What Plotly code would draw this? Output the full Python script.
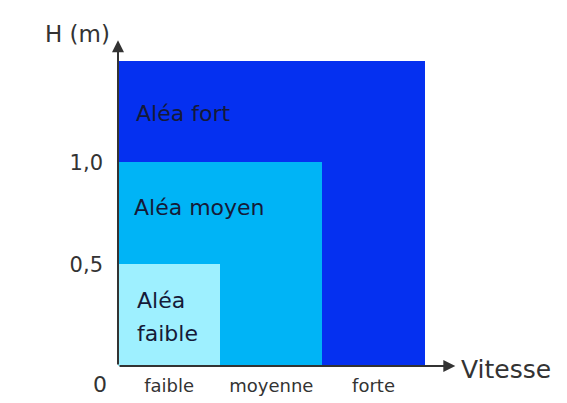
import plotly.graph_objects as go

# Data
speed_categories = ["faible", "moyenne", "forte"]
speed_positions = [0.5, 1.5, 2.5]
alea_faible = [0.5, 0.0, 0.0]
alea_moyen = [0.5, 1.0, 0.0]
alea_fort = [0.5, 0.5, 1.5]
height_ticks = [0.5, 1.0]
height_ticklabels = ["0,5", "1,0"]

FONT = "DejaVu Sans"
col_fort = "#0530f0"
col_moyen = "#00b4f6"
col_faible = "#9ef0ff"
txt = "#151a38"
axc = "#333333"

fig = go.Figure()
for name, vals, col in [("Aléa faible", alea_faible, col_faible),
                        ("Aléa moyen", alea_moyen, col_moyen),
                        ("Aléa fort", alea_fort, col_fort)]:
    fig.add_trace(go.Bar(x=speed_positions, y=vals, width=1.0, name=name,
                         marker=dict(color=col, line=dict(width=0)),
                         hoverinfo="skip"))

# Region labels
fig.add_annotation(x=0.16, y=1.24, text="Aléa fort", showarrow=False, xanchor="left",
                   font=dict(family=FONT, size=22, color=txt))
fig.add_annotation(x=0.14, y=0.78, text="Aléa moyen", showarrow=False, xanchor="left",
                   font=dict(family=FONT, size=22, color=txt))
fig.add_annotation(x=0.17, y=0.32, text="Aléa", showarrow=False, xanchor="left",
                   font=dict(family=FONT, size=22, color=txt))
fig.add_annotation(x=0.17, y=0.16, text="faible", showarrow=False, xanchor="left",
                   font=dict(family=FONT, size=22, color=txt))

# Axes arrows
fig.add_annotation(x=0, y=1.6, ax=0, ay=0, xref="x", yref="y", axref="x", ayref="y",
                   showarrow=True, arrowhead=2, arrowsize=1.2, arrowwidth=2,
                   arrowcolor=axc, text="")
fig.add_annotation(x=3.3, y=0, ax=0, ay=0, xref="x", yref="y", axref="x", ayref="y",
                   showarrow=True, arrowhead=2, arrowsize=1.2, arrowwidth=2,
                   arrowcolor=axc, text="")

# Axis titles and origin
fig.add_annotation(x=0, y=1.63, xshift=-6, text="H (m)", showarrow=False, xanchor="right",
                   yanchor="middle", font=dict(family=FONT, size=23, color=axc))
fig.add_annotation(x=3.34, y=0, yshift=-3, text="Vitesse", showarrow=False, xanchor="left",
                   yanchor="middle", font=dict(family=FONT, size=25, color=axc))
fig.add_annotation(x=0, y=0, xshift=-18, yshift=-18, text="0", showarrow=False,
                   font=dict(family=FONT, size=22, color=axc))

fig.update_layout(
    width=567, height=403,
    margin=dict(l=110, r=89, t=12, b=45),
    barmode="stack", bargap=0,
    showlegend=False,
    plot_bgcolor="white", paper_bgcolor="white",
    xaxis=dict(range=[0, 3.6], tickvals=speed_positions, ticktext=speed_categories,
               showgrid=False, zeroline=False, showline=False, ticks="",
               ticklabelstandoff=7,
               tickfont=dict(family=FONT, size=18, color=axc), fixedrange=True),
    yaxis=dict(range=[0, 1.7], tickvals=height_ticks, ticktext=height_ticklabels,
               showgrid=False, zeroline=False, showline=False, ticks="",
               ticklabelstandoff=14,
               tickfont=dict(family=FONT, size=21, color=axc), fixedrange=True),
)

fig.write_html("out.html")
